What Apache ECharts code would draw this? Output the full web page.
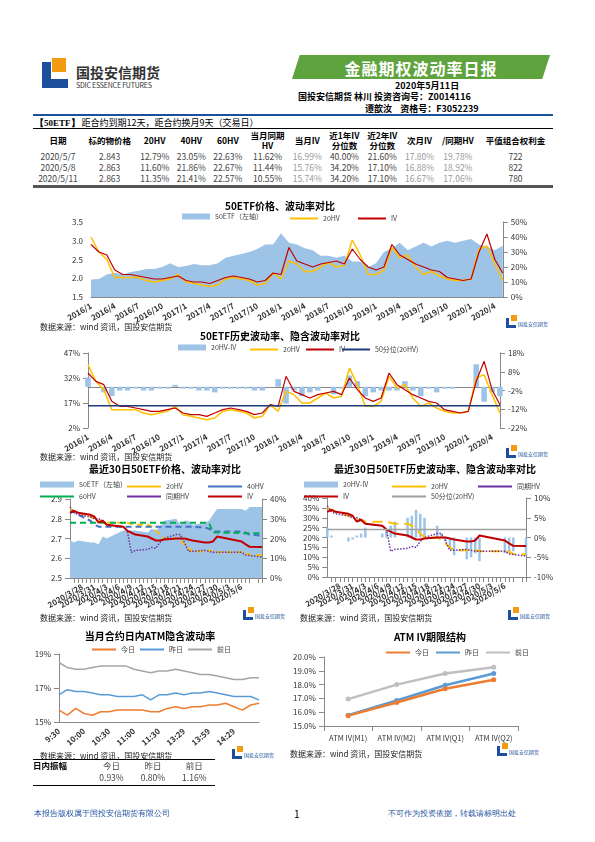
<!doctype html>
<html>
<head>
<meta charset="UTF-8">
<title>金融期权波动率日报</title>
<script src="https://cdn.jsdelivr.net/npm/echarts@6/dist/echarts.min.js"></script>
<style>
    body { margin: 0; width: 595px; height: 842px; position: relative; background: #fff;
        font-family: "Noto Sans CJK SC", "Noto Sans", sans-serif; color: #000; overflow: hidden; }
    .abs { position: absolute; }
    .chart { position: absolute; }
    .src { position: absolute; font-size: 8px; color: #222; }
    .mini-logo { position: absolute; width: 10px; height: 10px; border-left: 3px solid #1c4f9c; border-bottom: 3px solid #1c4f9c; box-sizing: border-box; }
    .mini-logo:after { content: ''; position: absolute; left: 2px; top: -3px; width: 6px; height: 6px; background: #f39c12; }
    .mini-txt { position: absolute; font-size: 5px; color: #1c4f9c; }
    #tbl { position: absolute; left: 33px; top: 129px; width: 520px; border-collapse: collapse; font-size: 8.5px; }
    #tbl th { font-weight: bold; padding: 0; height: 22px; line-height: 10px; }
    #tbl td { text-align: center; color: #444; padding: 0; height: 11px; line-height: 11px; }
    #tbl td.lt { color: #999; }
    #amp { position: absolute; left: 33px; top: 759px; width: 182px; border-collapse: collapse; font-size: 8.5px; }
    #amp td { padding: 0; height: 12px; line-height: 12px; text-align: center; color: #444; }
</style>
</head>
<body>
<!-- 抬头 -->
<div class="abs" style="left:42px;top:62px;width:26px;height:26px;border-left:9px solid #1c4f9c;border-bottom:9px solid #1c4f9c;box-sizing:border-box;"></div>
<div class="abs" style="left:52px;top:58px;width:14px;height:14px;background:#f39c12;"></div>
<div class="abs" style="left:76px;top:62px;font-size:14px;font-weight:bold;color:#333;">国投安信期货</div>
<div class="abs" style="left:76px;top:80px;font-size:7px;color:#333;letter-spacing:-0.2px;">SDIC ESSENCE FUTURES</div>
<div class="abs" style="left:292px;top:55px;width:258px;height:24px;background:#5fa33e;clip-path:polygon(3% 0,100% 0,97% 100%,0 100%);"></div>
<div class="abs" style="left:292px;top:56px;width:258px;text-align:center;font-size:16px;font-weight:bold;color:#fff;letter-spacing:1px;">金融期权波动率日报</div>
<div class="abs" style="left:395px;top:79px;font-size:9px;font-weight:bold;">2020年5月11日</div>
<div class="abs" style="left:298px;top:90px;font-size:9px;font-weight:bold;">国投安信期货 林川 投资咨询号：Z0014116</div>
<div class="abs" style="left:365px;top:102px;font-size:9px;font-weight:bold;">谭歆汝&nbsp;&nbsp;&nbsp;&nbsp;资格号：F3052239</div>
<div class="abs" style="left:33px;top:114px;width:520px;border-top:2px solid #1c4f9c;"></div>
<div class="abs" style="left:35px;top:116px;font-size:9px;"><b style="font-family:serif">【50ETF】</b> 距合约到期12天，距合约换月9天（交易日）</div>
<div class="abs" style="left:33px;top:128px;width:520px;border-top:1px solid #000;"></div>
<table id="tbl">
    <tr><th>日期</th><th>标的物价格</th><th>20HV</th><th>40HV</th><th>60HV</th><th>当月同期<br>HV</th><th>当月IV</th><th>近1年IV<br>分位数</th><th>近2年IV<br>分位数</th><th>次月IV</th><th>/同期HV</th><th>平值组合权利金</th></tr>
    <tr><td>2020/5/7</td><td>2.843</td><td>12.79%</td><td>23.05%</td><td>22.63%</td><td>11.62%</td><td class="lt">16.99%</td><td>40.00%</td><td>21.60%</td><td class="lt">17.80%</td><td class="lt">19.78%</td><td>722</td></tr>
    <tr><td>2020/5/8</td><td>2.863</td><td>11.60%</td><td>21.86%</td><td>22.67%</td><td>11.44%</td><td class="lt">15.76%</td><td>34.20%</td><td>17.10%</td><td class="lt">16.88%</td><td class="lt">18.92%</td><td>822</td></tr>
    <tr><td>2020/5/11</td><td>2.863</td><td>11.35%</td><td>21.41%</td><td>22.57%</td><td>10.55%</td><td class="lt">15.74%</td><td>34.20%</td><td>17.10%</td><td class="lt">16.67%</td><td class="lt">17.06%</td><td>780</td></tr>
</table>
<div class="abs" style="left:33px;top:185px;width:520px;border-top:3px solid #555;"></div>

<div id="c1" class="chart" style="left:30px;top:200px;width:500px;height:130px;"></div>
<div class="src" style="left:40px;top:321px;">数据来源：wind 资讯，国投安信期货</div>
<div class="mini-logo" style="left:506px;top:318px;"></div><div class="mini-txt" style="left:518px;top:320px;">国投安信期货</div>

<div id="c2" class="chart" style="left:30px;top:330px;width:500px;height:130px;"></div>
<div class="src" style="left:40px;top:451px;">数据来源：wind 资讯，国投安信期货</div>
<div class="mini-logo" style="left:506px;top:448px;"></div><div class="mini-txt" style="left:518px;top:450px;">国投安信期货</div>

<div id="c3" class="chart" style="left:30px;top:460px;width:270px;height:170px;"></div>
<div class="src" style="left:40px;top:612px;">数据来源：wind 资讯，国投安信期货</div>
<div class="mini-logo" style="left:243px;top:610px;"></div><div class="mini-txt" style="left:255px;top:612px;">国投安信期货</div>

<div id="c4" class="chart" style="left:300px;top:460px;width:270px;height:170px;"></div>
<div class="src" style="left:300px;top:612px;">数据来源：wind 资讯，国投安信期货</div>
<div class="mini-logo" style="left:508px;top:610px;"></div><div class="mini-txt" style="left:520px;top:612px;">国投安信期货</div>

<div id="c5" class="chart" style="left:30px;top:630px;width:240px;height:125px;"></div>
<div class="src" style="left:40px;top:750px;">数据来源：wind 资讯，国投安信期货</div>
<div class="mini-logo" style="left:232px;top:749px;"></div><div class="mini-txt" style="left:244px;top:751px;">国投安信期货</div>
<div class="abs" style="left:33px;top:759px;width:182px;border-top:1px solid #000;"></div>
<table id="amp">
    <tr><td style="text-align:left;font-weight:bold;color:#000;">日内振幅</td><td>今日</td><td>昨日</td><td>前日</td></tr>
    <tr><td></td><td>0.93%</td><td>0.80%</td><td>1.16%</td></tr>
</table>
<div class="abs" style="left:33px;top:785px;width:182px;border-top:1px solid #000;"></div>

<div id="c6" class="chart" style="left:290px;top:630px;width:280px;height:130px;"></div>
<div class="src" style="left:290px;top:748px;">数据来源：wind 资讯，国投安信期货</div>
<div class="mini-logo" style="left:497px;top:746px;"></div><div class="mini-txt" style="left:509px;top:748px;">国投安信期货</div>

<div class="abs" style="left:34px;top:808px;font-size:8px;color:#1c4f9c;font-family:serif;">本报告版权属于国投安信期货有限公司</div>
<div class="abs" style="left:294px;top:806px;font-size:10px;">1</div>
<div class="abs" style="left:388px;top:808px;font-size:8px;color:#1c4f9c;font-family:serif;">不可作为投资依据，转载请标明出处</div>

<script type="text/javascript">
    var FONT = 'Noto Sans CJK SC';
    // ===== 长周期（月度取点） =====
    var months = ['2016/1','2016/2','2016/3','2016/4','2016/5','2016/6','2016/7','2016/8','2016/9','2016/10','2016/11','2016/12',
        '2017/1','2017/2','2017/3','2017/4','2017/5','2017/6','2017/7','2017/8','2017/9','2017/10','2017/11','2017/12',
        '2018/1','2018/2','2018/3','2018/4','2018/5','2018/6','2018/7','2018/8','2018/9','2018/10','2018/11','2018/12',
        '2019/1','2019/2','2019/3','2019/4','2019/5','2019/6','2019/7','2019/8','2019/9','2019/10','2019/11','2019/12',
        '2020/1','2020/2','2020/3','2020/4','2020/5'];
    var etfPrice = [1.97,1.98,2.1,2.15,2.1,2.17,2.2,2.25,2.25,2.3,2.4,2.3,
        2.33,2.38,2.35,2.35,2.4,2.55,2.6,2.65,2.7,2.78,2.9,2.9,
        3.2,2.95,2.9,2.8,2.75,2.6,2.6,2.55,2.6,2.45,2.45,2.3,
        2.4,2.7,2.8,2.95,2.75,2.85,2.95,2.85,2.95,3.0,2.95,3.0,
        3.05,2.9,2.85,2.75,2.87];
    var hv20 = [40,30,25,13,13,13,13,11,10,11,12,15,
        10,9,8,7,8,12,13,12,11,8,9,16,
        12,24,22,17,17,20,23,20,21,38,28,15,
        15,18,33,26,28,20,15,17,14,12,11,11,
        12,32,34,22,11];
    var iv = [35,30,28,18,15,15,14,13,12,12,13,14,
        11,10,10,9,11,13,14,13,12,10,11,16,
        15,33,24,22,20,22,23,24,22,32,25,20,
        18,20,35,28,25,22,20,18,17,13,12,11,
        12,30,42,25,16];
    var hvIvDiff = [5,0,-3,-5,-2,-2,-1,-2,-2,-1,-1,1,
        -1,-1,-2,-2,-3,-1,-1,-1,-1,-2,-2,0,
        4,-9,-2,-5,-3,-2,0,-4,-1,6,3,-5,
        -3,-2,-2,-2,3,-2,-5,-1,-3,-1,-1,0,
        0,12,-8,-3,-5];
    var hv20Median = 15.3;

    // ===== 最近30日 =====
    var calDays = ['2020/3/25','2020/3/26','2020/3/27','2020/3/28','2020/3/29','2020/3/30','2020/3/31','2020/4/1','2020/4/2','2020/4/3',
        '2020/4/4','2020/4/5','2020/4/6','2020/4/7','2020/4/8','2020/4/9','2020/4/10','2020/4/11','2020/4/12','2020/4/13',
        '2020/4/14','2020/4/15','2020/4/16','2020/4/17','2020/4/18','2020/4/19','2020/4/20','2020/4/21','2020/4/22','2020/4/23',
        '2020/4/24','2020/4/25','2020/4/26','2020/4/27','2020/4/28','2020/4/29','2020/4/30','2020/5/1','2020/5/2','2020/5/3',
        '2020/5/4','2020/5/5','2020/5/6','2020/5/7','2020/5/8','2020/5/9','2020/5/10','2020/5/11'];
    var tradeDays = ['2020/3/25','2020/3/26','2020/3/27','2020/3/30','2020/3/31','2020/4/1','2020/4/2','2020/4/3','2020/4/7','2020/4/8',
        '2020/4/9','2020/4/10','2020/4/13','2020/4/14','2020/4/15','2020/4/16','2020/4/17','2020/4/20','2020/4/21','2020/4/22',
        '2020/4/23','2020/4/24','2020/4/27','2020/4/28','2020/4/29','2020/4/30','2020/5/6','2020/5/7','2020/5/8','2020/5/11'];
    var rPrice = [2.69,2.68,2.69,2.68,2.68,2.67,2.71,2.70,2.74,2.74,2.74,2.74,2.73,2.75,2.74,2.76,2.79,2.80,2.77,2.79,2.79,2.77,2.78,2.79,2.82,2.85,2.85,2.84,2.86,2.86];
    var r20hv = [35,34,33,31,30,29,29,28,28,28,27.5,27,27,26,24,22,20,20,19,17,15,13.5,13.5,14,13.5,13,13,12.8,11.6,11.4];
    var r40hv = [33,33.5,32,29,27,26,26,26,26,26,26,26,26,26,26,26,26,26,26,26,26,26,25.5,25,23.5,23.5,23.5,23,21.9,21.4];
    var r60hv = [28,28,28,28,28,28,28,28,28,28,28,28,28,28,28,28,28,28,28,28,28,28,28,28,23,23,22.8,22.6,22.7,22.6];
    var rSameHv = [36,33,32,31,30,30,29,27,26,24,13,14,14.5,15.5,15,18,20,22,22,18,13.5,13.5,14,13.5,13,13,13,11.6,11.4,10.6];
    var rIv = [33,34,33,32,31,28,29,27,26,24,23,22,21,20,19,19,19.5,20,20,20,19.5,19,18,18,18.5,21,18.5,17,15.8,15.7];
    var rDiff = [2.5,0.5,0,-1,-0.5,0.5,1,2.5,1,2,3,4,5,5.5,7,6,5,3,1,-1,-3,-4.5,-5.5,-5,-4,-6,-4,-4,-3.5,-4.5];
    var rMedian = 2;

    // ===== 日内 =====
    var intraTimes = ['9:30','9:40','9:50','10:00','10:10','10:20','10:30','10:40','10:50','11:00','11:10','11:20','11:30',
        '13:09','13:19','13:29','13:39','13:49','13:59','14:09','14:19','14:29','14:39','14:49','14:59'];
    var ivToday = [15.7,15.4,15.8,15.5,15.4,15.6,15.6,15.7,15.7,15.7,15.7,15.6,15.6,15.8,15.9,15.8,15.9,15.9,16.0,16.0,16.1,15.9,15.7,16.0,16.1];
    var ivYest = [16.6,16.9,16.8,16.8,16.7,16.6,16.6,16.5,16.5,16.5,16.6,16.3,16.6,16.6,16.7,16.6,16.7,16.7,16.8,16.7,16.6,16.5,16.5,16.5,16.3];
    var ivPrev = [18.5,18.2,18.1,18.1,18.2,18.3,18.3,18.3,18.3,18.1,18.0,17.9,18.0,18.0,18.1,18.0,17.9,17.8,17.8,17.7,17.6,17.5,17.5,17.6,17.6];

    // ===== 期限结构 =====
    var termCats = ['ATM IV(M1)','ATM IV(M2)','ATM IV(Q1)','ATM IV(Q2)'];
    var termToday = [15.75,16.7,17.7,18.35];
    var termYest = [15.78,16.85,17.95,18.8];
    var termPrev = [16.95,18.0,18.8,19.25];

    var C_AREA = '#9dc3e6', C_HV = '#ffc000', C_IV = '#c00000';
    var axLab = { fontSize: 8, color: '#333', fontFamily: FONT };
    var axLine = { show: true, lineStyle: { color: '#888' } };
    function title(t, top) { return { text: t, left: 'center', top: top || 0, padding: 0, textStyle: { fontSize: 10, fontWeight: 'bold', fontFamily: FONT, color: '#000' } }; }
    function onCal(vals) {
        return calDays.map(function (d) { var i = tradeDays.indexOf(d); return i < 0 ? null : vals[i]; });
    }
    var legTxt = { fontSize: 7, color: '#444', fontFamily: FONT };
    // 单项图例，便于逐个定位；area/bar 用实心块，线用细横条
    function leg(name, left, top, w, block) {
        return { data: [name], left: left, top: top, itemWidth: w || 34, itemHeight: block ? 6 : 2,
            icon: 'rect', textStyle: legTxt, padding: 0 };
    }

    // 图1
    echarts.init(document.getElementById('c1')).setOption({
        animation: false,
        title: title('50ETF价格、波动率对比', 1),
        legend: [leg('50ETF（左轴）', 152, 13, 28, true), leg('20HV', 260, 15, 28), leg('IV', 328, 15, 28)],
        grid: { left: 61, right: 22, top: 22, bottom: 33 },
        xAxis: { type: 'category', data: months, boundaryGap: false, axisLine: axLine, axisTick: { show: false },
            axisLabel: Object.assign({ interval: 2, rotate: 30, fontWeight: 'bold' }, axLab) },
        yAxis: [
            { min: 1.5, max: 3.5, interval: 0.5, splitLine: { show: false }, axisLine: { show: false }, axisLabel: Object.assign({ formatter: function (v) { return v.toFixed(1); } }, axLab) },
            { min: 0, max: 50, interval: 10, splitLine: { show: false }, axisLine: axLine, axisTick: { show: true }, axisLabel: Object.assign({ formatter: '{value}%' }, axLab) }
        ],
        series: [
            { name: '50ETF（左轴）', type: 'line', data: etfPrice, symbol: 'none', lineStyle: { width: 0 }, itemStyle: { color: C_AREA }, areaStyle: { color: C_AREA, opacity: 1, origin: 'start' } },
            { name: '20HV', type: 'line', yAxisIndex: 1, data: hv20, symbol: 'none', itemStyle: { color: C_HV }, lineStyle: { width: 1.5, color: C_HV } },
            { name: 'IV', type: 'line', yAxisIndex: 1, data: iv, symbol: 'none', itemStyle: { color: C_IV }, lineStyle: { width: 1.2, color: C_IV } }
        ]
    });

    // 图2
    echarts.init(document.getElementById('c2')).setOption({
        animation: false,
        title: title('50ETF历史波动率、隐含波动率对比', 1),
        legend: [leg('20HV-IV', 148, 14, 28, true), leg('20HV', 220, 16, 28), leg('IV', 276, 16, 28), leg('50分位(20HV)', 312, 16, 28)],
        grid: { left: 58, right: 21, top: 23, bottom: 32 },
        xAxis: { type: 'category', data: months, boundaryGap: false, axisLine: axLine, axisTick: { show: false },
            axisLabel: Object.assign({ interval: 2, rotate: 30, fontWeight: 'bold' }, axLab) },
        yAxis: [
            { min: 2, max: 47, interval: 15, splitLine: { show: false }, axisLine: axLine, axisTick: { show: true }, axisLabel: Object.assign({ formatter: '{value}%' }, axLab) },
            { min: -22, max: 18, interval: 10, splitLine: { show: false }, axisLine: axLine, axisTick: { show: true }, axisLabel: Object.assign({ formatter: '{value}%' }, axLab) }
        ],
        series: [
            { name: '20HV-IV', type: 'bar', yAxisIndex: 1, data: hvIvDiff, barWidth: '70%', itemStyle: { color: C_AREA } },
            { name: '20HV', type: 'line', data: hv20, symbol: 'none', itemStyle: { color: C_HV }, lineStyle: { width: 1.5, color: C_HV } },
            { name: 'IV', type: 'line', data: iv, symbol: 'none', itemStyle: { color: C_IV }, lineStyle: { width: 1.2, color: C_IV } },
            { name: '50分位(20HV)', type: 'line', data: months.map(function () { return hv20Median; }), symbol: 'none', itemStyle: { color: '#1f3b7a' }, lineStyle: { width: 1.5, color: '#1f3b7a' } }
        ]
    });

    // 图3
    var dash = { type: [6, 4] };
    echarts.init(document.getElementById('c3')).setOption({
        animation: false,
        title: title('最近30日50ETF价格、波动率对比', 4),
        legend: [leg('50ETF（左轴）', 10, 21, 34, true), leg('20HV', 97, 23), leg('40HV', 178, 23),
            leg('60HV', 10, 33), leg('同期HV', 97, 33), leg('IV', 178, 33)],
        grid: { left: 40, right: 38, top: 39, bottom: 52 },
        xAxis: { type: 'category', data: calDays, boundaryGap: false, axisLine: axLine, axisTick: { show: true, interval: 0 },
            axisLabel: Object.assign({ interval: 2, rotate: 30, fontWeight: 'bold' }, axLab) },
        yAxis: [
            { min: 2.5, max: 2.9, interval: 0.1, splitLine: { show: false }, axisLine: axLine, axisTick: { show: true }, axisLabel: Object.assign({ formatter: function (v) { return v.toFixed(1); } }, axLab) },
            { min: 0, max: 40, interval: 10, splitLine: { show: false }, axisLine: axLine, axisTick: { show: true }, axisLabel: Object.assign({ formatter: '{value}%' }, axLab) }
        ],
        series: [
            { name: '50ETF（左轴）', type: 'line', data: onCal(rPrice), connectNulls: true, symbol: 'none', lineStyle: { width: 0 }, itemStyle: { color: C_AREA }, areaStyle: { color: C_AREA, opacity: 1, origin: 'start' } },
            { name: '20HV', type: 'line', yAxisIndex: 1, data: onCal(r20hv), connectNulls: true, symbol: 'none', itemStyle: { color: C_HV }, lineStyle: Object.assign({ width: 2, color: C_HV }, dash) },
            { name: '40HV', type: 'line', yAxisIndex: 1, data: onCal(r40hv), connectNulls: true, symbol: 'none', itemStyle: { color: '#4472c4' }, lineStyle: Object.assign({ width: 2, color: '#4472c4' }, dash) },
            { name: '60HV', type: 'line', yAxisIndex: 1, data: onCal(r60hv), connectNulls: true, symbol: 'none', itemStyle: { color: '#00b050' }, lineStyle: Object.assign({ width: 2, color: '#00b050' }, dash) },
            { name: '同期HV', type: 'line', yAxisIndex: 1, data: onCal(rSameHv), connectNulls: true, symbol: 'none', itemStyle: { color: '#7030a0' }, lineStyle: { width: 1.5, color: '#7030a0', type: 'dotted' } },
            { name: 'IV', type: 'line', yAxisIndex: 1, data: onCal(rIv), connectNulls: true, symbol: 'none', itemStyle: { color: C_IV }, lineStyle: { width: 2, color: C_IV } }
        ]
    });

    // 图4
    echarts.init(document.getElementById('c4')).setOption({
        animation: false,
        title: title('最近30日50ETF历史波动率、隐含波动率对比', 4),
        legend: [leg('20HV-IV', 4, 21, 34, true), leg('20HV', 92, 23), leg('同期HV', 178, 23),
            leg('IV', 4, 33), leg('50分位(20HV)', 92, 33)],
        grid: { left: 26, right: 44, top: 38, bottom: 53 },
        xAxis: { type: 'category', data: calDays, boundaryGap: false, axisLine: axLine, axisTick: { show: true, interval: 0 },
            axisLabel: Object.assign({ interval: 2, rotate: 30, fontWeight: 'bold' }, axLab) },
        yAxis: [
            { min: 0, max: 40, interval: 5, splitLine: { show: false }, axisLine: axLine, axisTick: { show: true }, axisLabel: Object.assign({ formatter: '{value}%' }, axLab) },
            { min: -10, max: 10, interval: 5, splitLine: { show: false }, axisLine: axLine, axisTick: { show: true }, axisLabel: Object.assign({ formatter: '{value}%' }, axLab) }
        ],
        series: [
            { name: '20HV-IV', type: 'bar', yAxisIndex: 1, data: onCal(rDiff), barWidth: 2.5, itemStyle: { color: C_AREA } },
            { name: '20HV', type: 'line', data: onCal(r20hv), connectNulls: true, symbol: 'none', itemStyle: { color: C_HV }, lineStyle: { width: 2, color: C_HV, type: [10, 6] } },
            { name: '同期HV', type: 'line', data: onCal(rSameHv), connectNulls: true, symbol: 'none', itemStyle: { color: '#7030a0' }, lineStyle: { width: 1.5, color: '#7030a0', type: 'dotted' } },
            { name: 'IV', type: 'line', data: onCal(rIv), connectNulls: true, symbol: 'none', itemStyle: { color: C_IV }, lineStyle: { width: 2, color: C_IV } },
            { name: '50分位(20HV)', type: 'line', yAxisIndex: 1, data: calDays.map(function () { return rMedian; }), symbol: 'none', itemStyle: { color: '#a0a0a0' }, lineStyle: { width: 1.5, color: '#a0a0a0' } }
        ]
    });

    // 图5
    echarts.init(document.getElementById('c5')).setOption({
        animation: false,
        title: title('当月合约日内ATM隐含波动率', 1),
        legend: [leg('今日', 62, 16, 24), leg('昨日', 110, 16, 24), leg('前日', 158, 16, 24)],
        grid: { left: 29, right: 11, top: 24, bottom: 33 },
        xAxis: { type: 'category', data: intraTimes, boundaryGap: false, axisLine: axLine, axisTick: { show: false },
            axisLabel: Object.assign({ interval: function (i) { return i % 3 === 0 && i <= 21; }, rotate: 40, fontWeight: 'bold' }, axLab) },
        yAxis: { min: 15, max: 19, interval: 2, splitLine: { show: false }, axisLine: axLine, axisTick: { show: true }, axisLabel: Object.assign({ formatter: '{value}%' }, axLab) },
        series: [
            { name: '今日', type: 'line', data: ivToday, symbol: 'none', itemStyle: { color: '#ed7d31' }, lineStyle: { width: 1.5, color: '#ed7d31' } },
            { name: '昨日', type: 'line', data: ivYest, symbol: 'none', itemStyle: { color: '#5b9bd5' }, lineStyle: { width: 1.5, color: '#5b9bd5' } },
            { name: '前日', type: 'line', data: ivPrev, symbol: 'none', itemStyle: { color: '#a5a5a5' }, lineStyle: { width: 1.5, color: '#a5a5a5' } }
        ]
    });

    // 图6
    echarts.init(document.getElementById('c6')).setOption({
        animation: false,
        title: title('ATM IV期限结构', 2),
        legend: [leg('今日', 96, 19, 24), leg('昨日', 146, 19, 24), leg('前日', 196, 19, 24)],
        grid: { left: 27, right: 52, top: 27, bottom: 34 },
        xAxis: { type: 'category', data: termCats, axisLine: axLine, axisTick: { show: true }, axisLabel: Object.assign({ interval: 0 }, axLab, { fontSize: 7.5 }) },
        yAxis: { min: 15, max: 20, interval: 1, splitLine: { show: false }, axisLine: axLine, axisTick: { show: true }, axisLabel: Object.assign({ formatter: function (v) { return v.toFixed(1) + '%'; } }, axLab) },
        series: [
            { name: '前日', type: 'line', data: termPrev, symbol: 'circle', symbolSize: 5, itemStyle: { color: '#bfbfbf' }, lineStyle: { width: 2.5, color: '#bfbfbf' } },
            { name: '昨日', type: 'line', data: termYest, symbol: 'circle', symbolSize: 5, itemStyle: { color: '#5b9bd5' }, lineStyle: { width: 2.5, color: '#5b9bd5' } },
            { name: '今日', type: 'line', data: termToday, symbol: 'circle', symbolSize: 5, itemStyle: { color: '#ed7d31' }, lineStyle: { width: 2.5, color: '#ed7d31' } }
        ]
    });
</script>
</body>
</html>
